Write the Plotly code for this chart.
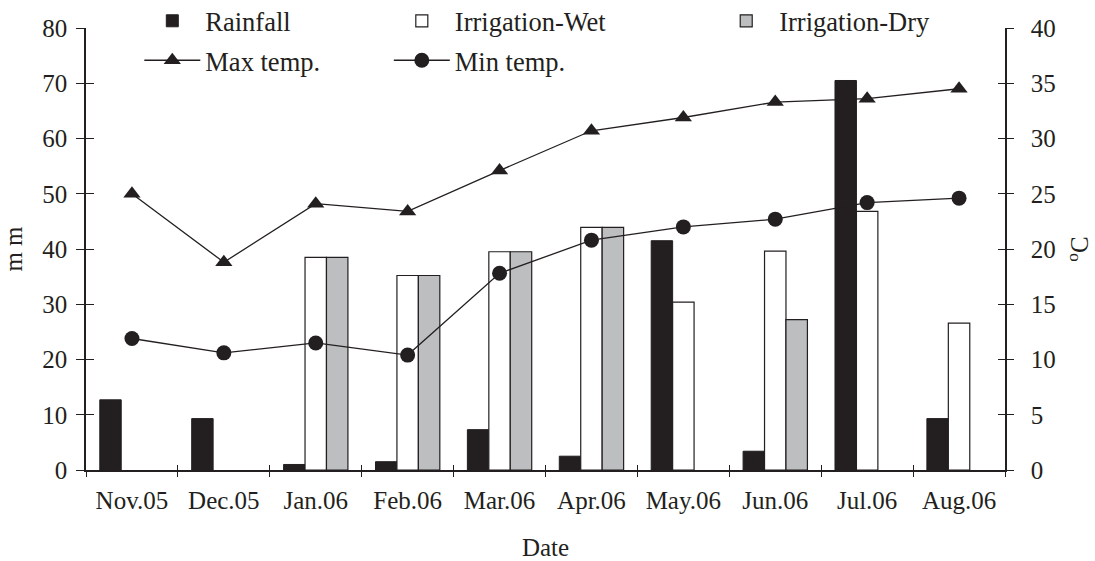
import plotly.graph_objects as go

months = ["Nov.05", "Dec.05", "Jan.06", "Feb.06", "Mar.06", "Apr.06",
          "May.06", "Jun.06", "Jul.06", "Aug.06"]
rainfall = [12.7, 9.3, 1.0, 1.5, 7.3, 2.5, 41.5, 3.4, 70.5, 9.3]
irr_wet = [None, None, 38.5, 35.2, 39.5, 43.9, 30.4, 39.6, 46.8, 26.6]
irr_dry = [None, None, 38.5, 35.2, 39.5, 43.9, None, 27.2, None, None]
max_temp = [25.0, 18.8, 24.1, 23.4, 27.1, 30.7, 31.9, 33.3, 33.6, 34.5]
min_temp = [11.9, 10.6, 11.5, 10.4, 17.8, 20.8, 22.0, 22.7, 24.2, 24.6]

FONT = "Liberation Serif"
FS = 25
LFS = 26.5
INK = "#231f20"
fig = go.Figure()

fig.add_trace(go.Bar(x=months, y=rainfall, name="Rainfall",
                     marker=dict(color=INK, line=dict(color=INK, width=1)),
                     legend="legend", legendgroup="a"))
fig.add_trace(go.Bar(x=months, y=irr_wet, name="Irrigation-Wet",
                     marker=dict(color="white", line=dict(color=INK, width=1.2)),
                     legend="legend2", legendgroup="b"))
fig.add_trace(go.Bar(x=months, y=irr_dry, name="Irrigation-Dry",
                     marker=dict(color="#bcbec0", line=dict(color=INK, width=1.2)),
                     legend="legend3", legendgroup="c"))
fig.add_trace(go.Scatter(x=months, y=max_temp, name="Max temp.", yaxis="y2",
                         mode="lines+markers",
                         line=dict(color=INK, width=1.3),
                         marker=dict(symbol="triangle-up", size=15, color=INK),
                         legend="legend", legendgroup="d"))
fig.add_trace(go.Scatter(x=months, y=min_temp, name="Min temp.", yaxis="y2",
                         mode="lines+markers",
                         line=dict(color=INK, width=1.3),
                         marker=dict(symbol="circle", size=15, color=INK),
                         legend="legend2", legendgroup="e"))
# invisible helpers carrying the inward halves of the cross ticks
fig.add_trace(go.Scatter(x=months, y=rainfall, xaxis="x2", yaxis="y3", mode="markers",
                         marker=dict(opacity=0), showlegend=False, hoverinfo="skip"))
fig.add_trace(go.Scatter(x=months, y=max_temp, xaxis="x2", yaxis="y4", mode="markers",
                         marker=dict(opacity=0), showlegend=False, hoverinfo="skip"))

tickfont = dict(family=FONT, size=FS, color=INK)
legfont = dict(family=FONT, size=LFS, color=INK)

fig.update_layout(
    width=1095, height=561,
    margin=dict(l=86, r=90, t=28, b=91, autoexpand=False),
    paper_bgcolor="white", plot_bgcolor="white",
    barmode="group", bargap=0.3, bargroupgap=0,
    font=dict(family=FONT, size=FS, color=INK),
    xaxis=dict(type="category", categoryorder="array", categoryarray=months,
               range=[-0.5, 9.5], tickson="boundaries", ticks="outside", ticklen=5,
               tickwidth=1.3, tickcolor=INK, showline=True, linecolor=INK,
               linewidth=1.5, showgrid=False, zeroline=False, tickfont=tickfont,
               ticklabelstandoff=7,
               title=dict(text="Date", font=tickfont, standoff=26)),
    xaxis2=dict(type="category", categoryorder="array", categoryarray=months,
                overlaying="x", anchor="y", side="bottom",
                range=[-0.5, 9.5], tickson="boundaries", ticks="inside", ticklen=5,
                tickwidth=1.3, tickcolor=INK, showline=False, showgrid=False,
                showticklabels=False, zeroline=False),
    yaxis=dict(range=[0, 80], dtick=10, ticks="outside", ticklen=8, tickwidth=1.3,
               tickcolor=INK, showline=True, linecolor=INK, linewidth=1.5,
               showgrid=False, zeroline=False, tickfont=tickfont, ticklabelstandoff=4,
               title=dict(text="m m", font=tickfont, standoff=14)),
    yaxis2=dict(range=[0, 40], dtick=5, overlaying="y", side="right", anchor="x",
                ticks="outside", ticklen=7, tickwidth=1.3, tickcolor=INK,
                showline=True, linecolor=INK, linewidth=1.5, showgrid=False,
                zeroline=False, tickfont=tickfont, ticklabelstandoff=12,
                title=dict(text="<sup>o</sup>C", font=tickfont, standoff=16)),
    yaxis3=dict(range=[0, 80], dtick=10, overlaying="y", side="left", anchor="x2",
                ticks="inside", ticklen=8, tickwidth=1.3, tickcolor=INK,
                showline=False, showgrid=False, zeroline=False, showticklabels=False),
    yaxis4=dict(range=[0, 40], dtick=5, overlaying="y", side="right", anchor="x2",
                ticks="inside", ticklen=7, tickwidth=1.3, tickcolor=INK,
                showline=False, showgrid=False, zeroline=False, showticklabels=False),
    legend=dict(x=0.058, y=1.07, xanchor="left", yanchor="top", font=legfont,
                bgcolor="rgba(0,0,0,0)", traceorder="grouped", tracegroupgap=2,
                itemwidth=56),
    legend2=dict(x=0.3295, y=1.07, xanchor="left", yanchor="top", font=legfont,
                 bgcolor="rgba(0,0,0,0)", traceorder="grouped", tracegroupgap=2,
                 itemwidth=56),
    legend3=dict(x=0.6825, y=1.07, xanchor="left", yanchor="top", font=legfont,
                 bgcolor="rgba(0,0,0,0)", traceorder="grouped", tracegroupgap=2,
                 itemwidth=56),
)

fig.write_html("out.html", config={"displayModeBar": False},
               post_script="document.body.style.margin='0';")
